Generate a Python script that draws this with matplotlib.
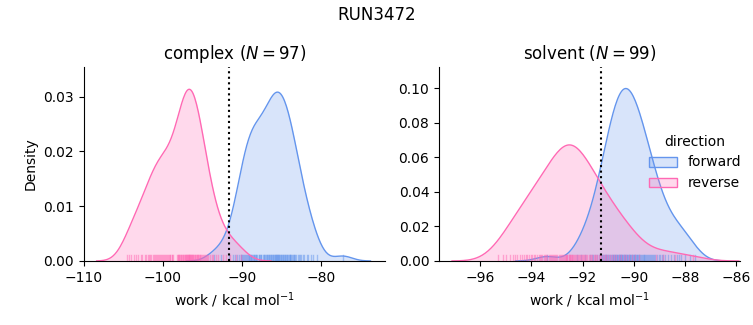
import numpy as np
from matplotlib import pyplot as plt
from matplotlib.colors import to_rgb
from matplotlib.patches import Patch

complexReverse = [
    -104.6, -104.3, -104.0, -103.7, -103.4, -103.1, -102.8, -102.6, -102.3, -102.1,
    -101.95, -101.8, -101.6, -101.45, -101.3, -101.15, -101.0, -100.9, -100.75, -100.65,
    -100.5, -100.4, -100.25, -100.15, -100.0, -99.9, -99.75, -99.65, -99.5, -99.4,
    -99.25, -99.15, -99.05, -98.9, -98.8, -98.7, -98.25, -98.15,
    -98.07, -97.98, -97.9, -97.82, -97.74, -97.66, -97.58, -97.5, -97.42, -97.33,
    -97.25, -97.17, -97.11, -97.05, -96.98, -96.92, -96.86, -96.79, -96.73, -96.7,
    -96.67, -96.61, -96.54, -96.48, -96.42, -96.36, -96.29, -96.23, -96.15, -96.07,
    -95.98, -95.9, -95.82, -95.74, -95.66, -95.58, -95.5, -95.42, -95.33, -95.25,
    -95.15, -95.0, -94.9, -94.75, -94.65, -94.5, -94.4, -94.25, -94.1, -93.8,
    -93.6, -93.3, -93.0, -92.4, -92.0, -91.5, -90.7, -90.1]
complexForward = [
    -93.5, -92.6, -91.6, -91.1, -90.85, -90.6, -90.35, -90.15, -90.05, -89.95,
    -89.8, -89.7, -89.6, -89.45, -89.35, -89.25, -89.15, -89.06, -88.97, -88.88,
    -88.79, -88.7, -88.61, -88.52, -88.43, -88.34, -88.25, -88.15, -88.06,
    -87.88, -87.79, -87.7, -87.61, -87.52, -87.34, -87.25, -87.15, -87.06,
    -86.97, -86.88, -86.79, -86.7, -86.61, -86.52, -86.43, -86.34, -86.25, -86.16,
    -86.08, -86.01, -85.93, -85.85, -85.78, -85.7, -85.62, -85.55, -85.5, -85.47,
    -85.39, -85.32, -85.24, -85.16, -85.08, -84.99, -84.91, -84.83, -84.74, -84.66,
    -84.58, -84.49, -84.41, -84.33, -84.24, -84.15, -84.05, -83.95, -83.9, -83.85,
    -83.75, -83.65, -83.55, -83.45, -83.35, -83.25, -83.1, -82.95, -82.8, -82.6,
    -82.45, -82.3, -82.1, -81.8, -81.6, -81.3, -81.0, -80.5, -77.2]
solventReverse = [
    -95.3, -95.1, -95.0, -94.85, -94.7, -94.62, -94.54, -94.46, -94.38, -94.3,
    -94.22, -94.16, -94.09, -94.03, -93.97, -93.91, -93.84, -93.78, -93.72, -93.67,
    -93.62, -93.57, -93.52, -93.48, -93.43, -93.38, -93.33, -93.28, -93.23, -93.19,
    -93.15, -93.1, -93.06, -93.02, -92.98, -92.94, -92.9, -92.85, -92.81, -92.77,
    -92.73, -92.69, -92.66, -92.64, -92.62, -92.59, -92.55, -92.52, -92.5, -92.48,
    -92.45, -92.43, -92.41, -92.38, -92.34, -92.31, -92.27, -92.23, -92.19, -92.15,
    -92.1, -92.06, -92.02, -91.98, -91.94, -91.9, -91.85, -91.81, -91.77, -91.72,
    -91.67, -91.62, -91.57, -91.52, -91.48, -91.43, -91.38, -91.33, -91.28, -91.21,
    -91.14, -91.07, -91.0, -90.93, -90.86, -90.79, -90.7, -90.6, -90.5, -90.4,
    -90.3, -90.19, -90.06, -89.94, -89.81, -89.12, -88.88, -88.4, -87.7]
solventForward = [
    -93.4, -92.2, -92.05, -91.9, -91.72, -91.65, -91.58, -91.5, -91.43, -91.36,
    -91.28, -91.23, -91.2, -91.17, -91.13, -91.1, -91.07, -91.03, -91.0, -90.97,
    -90.93, -90.9, -90.87, -90.83, -90.8, -90.77, -90.74, -90.72, -90.7, -90.67,
    -90.65, -90.63, -90.6, -90.58, -90.56, -90.54, -90.51, -90.49, -90.47,
    -90.45, -90.42, -90.4, -90.38, -90.35, -90.33, -90.31, -90.28, -90.26,
    -90.24, -90.21, -90.19, -90.16, -90.14, -90.11, -90.09, -90.06, -90.04, -90.01,
    -89.99, -89.96, -89.94, -89.91, -89.89, -89.86, -89.84, -89.81, -89.79, -89.76,
    -89.73, -89.7, -89.66, -89.62, -89.59, -89.55, -89.52, -89.48, -89.45, -89.41,
    -89.37, -89.34, -89.3, -89.27, -89.22, -89.16, -89.09, -89.03, -88.97, -88.91,
    -88.85, -88.78, -88.69, -88.56, -88.44, -88.31, -88.25, -88.17, -88.0, -87.83, -87.6]

phases = ['complex', 'solvent']
nLabels = [97, 99]
freeEnergies = [-91.65, -91.29]   # dotted lines
directions = ['forward', 'reverse']
colors = ['cornflowerblue', 'hotpink']

works = {'complex': [complexForward, complexReverse],
         'solvent': [solventForward, solventReverse]}
nTotal = sum(len(w) for p in phases for w in works[p])


def kde(values):
    v = np.asarray(values)
    n = len(v)
    bw = v.std(ddof=1) * n ** (-0.2)
    grid = np.linspace(v.min() - 3 * bw, v.max() + 3 * bw, 200)
    dens = np.exp(-0.5 * ((grid[:, None] - v[None, :]) / bw) ** 2).sum(axis=1)
    dens /= n * bw * np.sqrt(2 * np.pi)
    return grid, dens * n / nTotal


fig = plt.figure(figsize=(7.53, 3.25), dpi=100)
axes = [fig.add_axes([0.1115, 0.197, 0.3995, 0.597]),
        fig.add_axes([0.583, 0.197, 0.3995, 0.597])]
xlims = [(-110.0, -71.9), (-97.6, -85.87)]
ylims = [0.0354, 0.1122]

for i, phase in enumerate(phases):
    ax = axes[i]
    for w, col in zip(works[phase], colors):
        x, y = kde(w)
        ax.fill_between(x, y, color=col, alpha=0.25, linewidth=0)
        ax.plot(x, y, color=col, lw=1)
        for v in w:
            ax.axvline(v, 0, 0.03, color=col, lw=1, alpha=0.5)
    ax.axvline(freeEnergies[i], color='black', ls=':', lw=1.5)
    ax.set_xlim(*xlims[i])
    ax.set_ylim(0, ylims[i])
    ax.set_title(f'{phase} ($N={nLabels[i]}$)', fontsize=12)
    ax.set_xlabel('work / kcal mol$^{-1}$')
    ax.spines['top'].set_visible(False)
    ax.spines['right'].set_visible(False)

axes[0].set_ylabel('Density')
axes[0].set_yticks([0.0, 0.01, 0.02, 0.03])
axes[1].set_yticks([0.0, 0.02, 0.04, 0.06, 0.08, 0.10])
axes[1].set_xticks([-96, -94, -92, -90, -88, -86])

handles = [Patch(facecolor=(*to_rgb(c), 0.25), edgecolor=c) for c in colors]
fig.legend(handles, directions, title='direction', frameon=False,
           loc='center left', bbox_to_anchor=(0.845, 0.5))
fig.suptitle('RUN3472', fontsize=12)

plt.savefig('out.png', dpi=100)
